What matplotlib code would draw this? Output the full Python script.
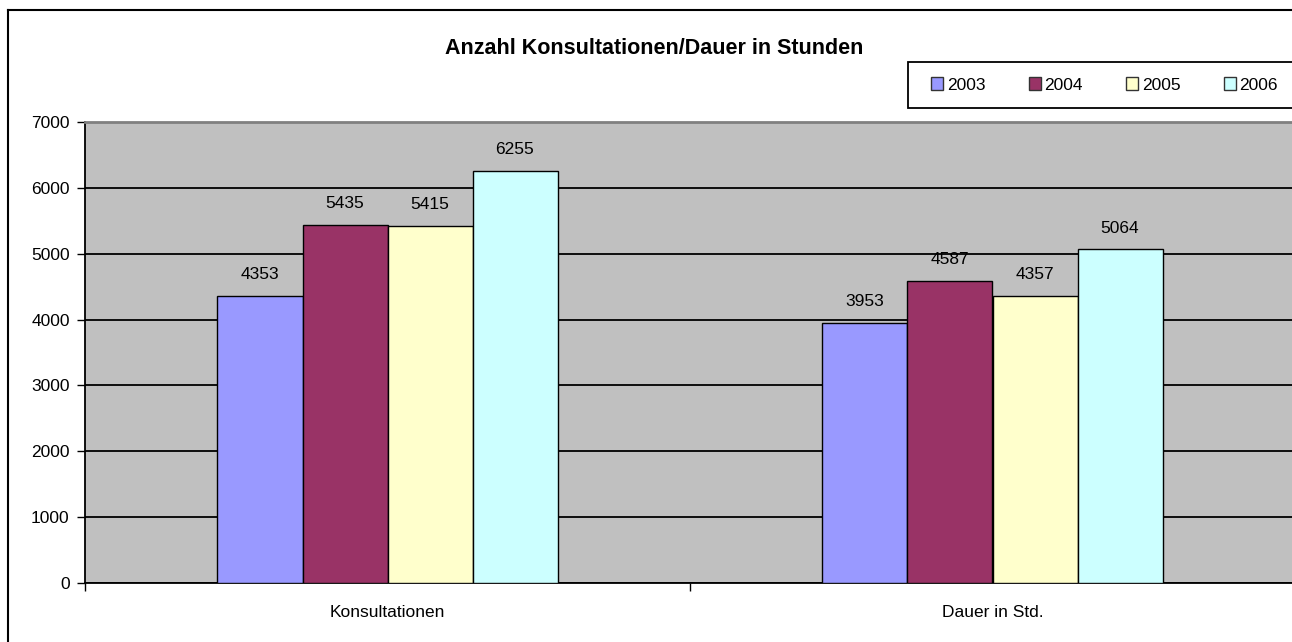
import matplotlib.pyplot as plt
import matplotlib.patches as mpatches
from matplotlib.lines import Line2D
import numpy as np

# ==== data ====
categories = ['Konsultationen', 'Dauer in Std.']
years = ['2003', '2004', '2005', '2006']
values = {
    '2003': [4353, 3953],
    '2004': [5435, 4587],
    '2005': [5415, 4357],
    '2006': [6255, 5064],
}
colors = ['#9999FF', '#993366', '#FFFFCC', '#CCFFFF']
yticks = [0, 1000, 2000, 3000, 4000, 5000, 6000, 7000]

plt.rcParams['font.family'] = ['Liberation Sans', 'DejaVu Sans']

# ==== figure ====
fig = plt.figure(figsize=(12.92, 6.42), dpi=100)
W, H = 1292.0, 642.0
ax = fig.add_axes([85 / W, 1 - 583 / H, 1210 / W, 461 / H])
ax.set_facecolor('#C0C0C0')

# outer chart border (left + top only visible)
fig.add_artist(Line2D([8 / W, 8 / W], [0, 1 - 10 / H], color='black', lw=1.5, transform=fig.transFigure))
fig.add_artist(Line2D([8 / W, 1.0], [1 - 10 / H, 1 - 10 / H], color='black', lw=1.5, transform=fig.transFigure))

x = np.arange(len(categories)) + 0.5
w = 85 / 605.0
for i, yr in enumerate(years):
    bars = ax.bar(x + (i - 1.5) * w, values[yr], width=w, color=colors[i],
                  edgecolor='black', linewidth=1.0, label=yr, zorder=3)
    ax.bar_label(bars, labels=[str(v) for v in values[yr]], padding=10, fontsize=12.5)

ax.set_xlim(0, len(categories))
ax.set_ylim(0, 7000)
ax.set_yticks(yticks)
ax.yaxis.grid(True, color='black', linewidth=1.3)
ax.set_axisbelow(True)

ax.set_xticks([0, 1, 2])
ax.set_xticklabels([])
ax.set_xticks(x, minor=True)
ax.set_xticklabels(categories, minor=True, fontsize=12.5)
ax.tick_params(axis='x', which='major', length=6, width=1, direction='out')
ax.tick_params(axis='x', which='minor', length=0, pad=16)
ax.tick_params(axis='y', length=6, width=1, direction='out', labelsize=12.5, pad=5)

for s in ['left', 'bottom']:
    ax.spines[s].set_linewidth(1.3)
ax.spines['top'].set_color('#808080')
ax.spines['top'].set_linewidth(2)
ax.spines['right'].set_visible(False)

fig.text(654 / W, 1 - 48 / H, 'Anzahl Konsultationen/Dauer in Stunden',
         ha='center', va='center', fontsize=15.5, fontweight='bold')

# legend frame (runs past the right edge like the original)
fig.add_artist(mpatches.Rectangle((908 / W, 1 - 108 / H), 420 / W, 46 / H, transform=fig.transFigure,
                                  facecolor='white', edgecolor='black', linewidth=1.3, zorder=4))
handles = [mpatches.Patch(facecolor=c, edgecolor='#333333', linewidth=1) for c in colors]
leg = fig.legend(handles, years, loc='center left', ncol=4,
                 bbox_to_anchor=(931 / W, 1 - 85 / H),
                 fontsize=12.5, handlelength=0.7, handleheight=0.7, handletextpad=0.2,
                 columnspacing=2.5, borderaxespad=0, borderpad=0, frameon=False)
leg.set_zorder(5)

fig.savefig('out.png', dpi=100)
